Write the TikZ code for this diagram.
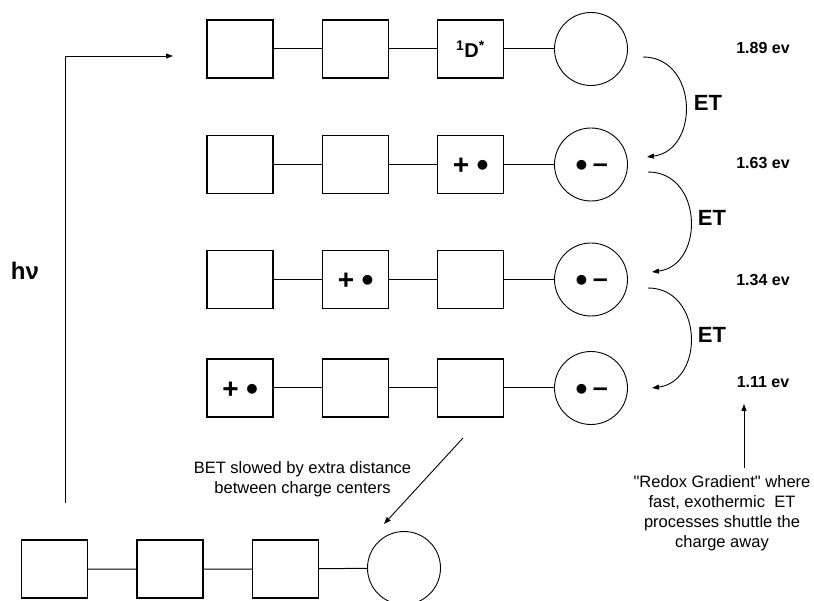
\documentclass[tikz,border=0pt]{standalone}
\usepackage{fontspec}
\setmainfont{Liberation Sans}[Ligatures=TeXOff]
\usetikzlibrary{arrows.meta,calc}
\begin{document}
\begin{tikzpicture}[x=1pt,y=-1pt,
  unit/.style={draw, line width=1.2pt, minimum width=66pt, minimum height=58pt,
    inner sep=0pt, font=\bfseries\fontsize{20}{20}\selectfont},
  acceptor/.style={draw, circle, line width=0.9pt, minimum size=73pt, inner sep=0pt},
  link/.style={line width=1pt},
  tip/.style={-{Triangle[length=7pt,width=5pt]}, line width=0.9pt},
  markplus/.style={anchor=base, inner sep=0pt, font=\bfseries\fontsize{28}{28}\selectfont},
  markdot/.style={anchor=base, inner sep=0pt, font=\bfseries\fontsize{34}{34}\selectfont},
  markdash/.style={anchor=base, inner sep=0pt, font=\bfseries\fontsize{27}{27}\selectfont},
  energy/.style={font=\bfseries\fontsize{16}{16}\selectfont},
  etlabel/.style={font=\bfseries\fontsize{22}{22}\selectfont},
  note/.style={font=\fontsize{16.5}{20}\selectfont, align=center, inner sep=0pt}
]
\useasboundingbox (0,0) rectangle (814,601);

% radical cation inside a donor box, radical anion inside the acceptor
\newcommand\cationmark[1]{%
  \node[markplus] (#1p) at ($(#1)+(-9.5,10.3)$) {+};
  \node[markdot]  (#1d) at ($(#1)+(12,12.3)$) {•};}
\newcommand\anionmark[1]{%
  \node[markdot]  (#1d) at ($(#1)+(-9.5,12.3)$) {•};
  \node[markdash] (#1m) at ($(#1)+(9.5,8.5)$) {–};}

% row 1: excited donor
\node[unit] (a1) at (240,49) {};
\node[unit] (b1) at (355.5,49) {};
\node[unit] (c1) at (470.5,49) {\textsuperscript{1}D\textsuperscript{*}};
\node[acceptor] (d1) at (591,49) {};
% row 2
\node[unit] (a2) at (240,164.5) {};
\node[unit] (b2) at (355.5,164.5) {};
\node[unit] (c2) at (470.5,164.5) {};
\node[acceptor] (d2) at (591,164.5) {};
% row 3
\node[unit] (a3) at (240,279.5) {};
\node[unit] (b3) at (355.5,279.5) {};
\node[unit] (c3) at (470.5,279.5) {};
\node[acceptor] (d3) at (591,279.5) {};
% row 4
\node[unit] (a4) at (240,388) {};
\node[unit] (b4) at (355.5,388) {};
\node[unit] (c4) at (470.5,388) {};
\node[acceptor] (d4) at (591,388) {};
% ground state
\node[unit] (a5) at (54.5,569) {};
\node[unit] (b5) at (170,569) {};
\node[unit] (c5) at (285.5,569) {};
\node[acceptor] (d5) at (404,568) {};

\cationmark{c2} \anionmark{d2}
\cationmark{b3} \anionmark{d3}
\cationmark{a4} \anionmark{d4}

\foreach \r in {1,...,5}{
  \draw[link] (a\r) -- (b\r) (b\r) -- (c\r) (c\r) -- (d\r);
}

% electron transfer steps
\coordinate (e1s) at (643,57);  \coordinate (e1e) at (647,157);
\coordinate (e2s) at (648,172); \coordinate (e2e) at (652,272);
\coordinate (e3s) at (648,288); \coordinate (e3e) at (652,388);
\draw[tip] (e1s) .. controls (698,57) and (700,150) .. (e1e);
\draw[tip] (e2s) .. controls (703,172) and (705,265) .. (e2e);
\draw[tip] (e3s) .. controls (703,288) and (705,381) .. (e3e);
\node[etlabel] (et1) at (708,103) {ET};
\node[etlabel] (et2) at (712,218) {ET};
\node[etlabel] (et3) at (712,335) {ET};

% energies
\node[energy] (g1) at (763,48) {1.89 ev};
\node[energy] (g2) at (763,163) {1.63 ev};
\node[energy] (g3) at (763,280) {1.34 ev};
\node[energy] (g4) at (763,382) {1.11 ev};

% excitation
\node[font=\bfseries\fontsize{24}{24}\selectfont] (hv) at (25,271) {hν};
\coordinate (h0) at (65,503);
\coordinate (h1) at (173,56);
\draw[tip] (h0) |- (h1);

% back electron transfer
\node[note] (bet) at (302.5,479.5)
  {BET slowed by extra distance\\between charge centers};
\coordinate (bt0) at (463,438);
\coordinate (bt1) at (384,524);
\draw[tip] (bt0) -- (bt1);

% redox gradient
\node[note] (redox) at (722,513)
  {"Redox Gradient" where\\fast, exothermic\ \ ET\\processes shuttle the\\charge away};
\coordinate (r0) at (744,468);
\coordinate (r1) at (744,404);
\draw[tip] (r0) -- (r1);
\end{tikzpicture}
\end{document}
